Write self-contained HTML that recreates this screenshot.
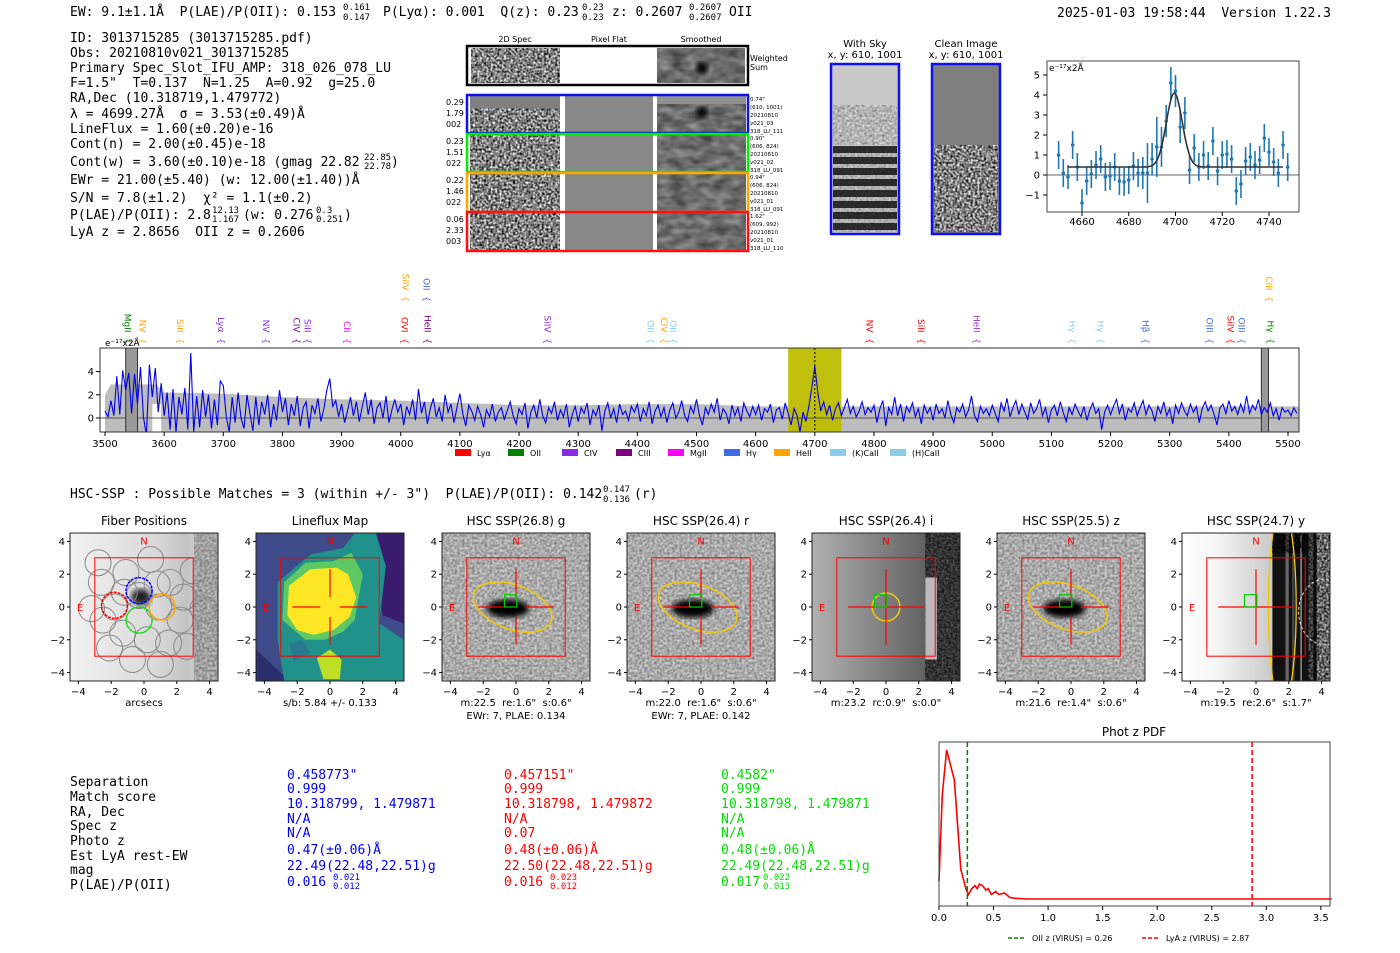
<!DOCTYPE html>
<html><head><meta charset="utf-8"><style>
html,body{margin:0;padding:0;background:#fff;width:1400px;height:953px;overflow:hidden}
svg{display:block}
svg text{white-space:pre}
.m{font-family:"DejaVu Sans Mono","Liberation Mono",monospace;font-size:13px}
.s{font-family:"DejaVu Sans","Liberation Sans",sans-serif}
</style></head><body>
<svg id="root" width="1400" height="953" viewBox="0 0 1400 953" xmlns="http://www.w3.org/2000/svg">
<defs>
<filter id="salt" x="0" y="0" width="1" height="1"><feTurbulence type="fractalNoise" baseFrequency="0.45" numOctaves="1" seed="3"/><feColorMatrix type="matrix" values="0 0 0 0 0  0 0 0 0 0  0 0 0 0 0  1 0 0 0 0"/><feComponentTransfer><feFuncA type="discrete" tableValues="1 1 0.75 0.5 0.25 0 0"/></feComponentTransfer></filter>
<filter id="smooth" x="0" y="0" width="1" height="1"><feTurbulence type="fractalNoise" baseFrequency="0.07 0.12" numOctaves="2" seed="7"/><feColorMatrix type="matrix" values="0 0 0 0 0  0 0 0 0 0  0 0 0 0 0  0.8 0 0 0 -0.1"/></filter>
<filter id="hsc" x="0" y="0" width="1" height="1"><feTurbulence type="fractalNoise" baseFrequency="0.4" numOctaves="1" seed="11"/><feColorMatrix type="matrix" values="0 0 0 0 0  0 0 0 0 0  0 0 0 0 0  0.7 0 0 0 -0.15"/></filter>
<filter id="blur3"><feGaussianBlur stdDeviation="3"/></filter>
<filter id="blur6"><feGaussianBlur stdDeviation="6"/></filter>
<linearGradient id="gi" x1="0" x2="1"><stop offset="0" stop-color="#b0b0b0"/><stop offset="1" stop-color="#4a4a4a"/></linearGradient>
<linearGradient id="gy" x1="0" x2="1"><stop offset="0" stop-color="#fff"/><stop offset="0.25" stop-color="#f4f4f4"/><stop offset="1" stop-color="#9a9a9a"/></linearGradient>
<linearGradient id="gf" x1="0" x2="1"><stop offset="0" stop-color="#f2f2f2"/><stop offset="0.6" stop-color="#d8d8d8"/><stop offset="1" stop-color="#aaa"/></linearGradient>
<clipPath id="specclip"><rect x="100" y="348" width="1199" height="84"/></clipPath>
<clipPath id="zclip"><rect x="1047" y="61" width="252" height="151"/></clipPath>
</defs>

<g class="m">
<text x="70" y="16">EW: 9.1±1.1Å  P(LAE)/P(OII): 0.153</text>
<text x="343" y="10" style="font-size:9px">0.161</text><text x="343" y="20" style="font-size:9px">0.147</text>
<text x="383" y="16">P(Lyα): 0.001  Q(z): 0.23</text>
<text x="582" y="10" style="font-size:9px">0.23</text><text x="582" y="20" style="font-size:9px">0.23</text>
<text x="612" y="16">z: 0.2607</text>
<text x="689" y="10" style="font-size:9px">0.2607</text><text x="689" y="20" style="font-size:9px">0.2607</text>
<text x="729" y="16">OII</text>
<text x="1057" y="17">2025-01-03 19:58:44  Version 1.22.3</text>
</g>
<g class="m">
<text x="70" y="42">ID: 3013715285 (3013715285.pdf)</text>
<text x="70" y="57">Obs: 20210810v021_3013715285</text>
<text x="70" y="72">Primary Spec_Slot_IFU_AMP: 318_026_078_LU</text>
<text x="70" y="87">F=1.5"  T=0.137  N=1.25  A=0.92  g=25.0</text>
<text x="70" y="102">RA,Dec (10.318719,1.479772)</text>
<text x="70" y="118">λ = 4699.27Å  σ = 3.53(±0.49)Å</text>
<text x="70" y="133">LineFlux = 1.60(±0.20)e-16</text>
<text x="70" y="148">Cont(n) = 2.00(±0.45)e-18</text>
<text x="70" y="166">Cont(w) = 3.60(±0.10)e-18 (gmag 22.82</text>
<text x="364" y="160" style="font-size:9px">22.85</text><text x="364" y="169" style="font-size:9px">22.78</text><text x="391" y="166">)</text>
<text x="70" y="184">EWr = 21.00(±5.40) (w: 12.00(±1.40))Å</text>
<text x="70" y="202">S/N = 7.8(±1.2)  χ² = 1.1(±0.2)</text>
<text x="70" y="219">P(LAE)/P(OII): 2.8</text>
<text x="212" y="213" style="font-size:9px">12.13</text><text x="212" y="222" style="font-size:9px">1.167</text>
<text x="243" y="219">(w: 0.276</text><text x="316" y="213" style="font-size:9px">0.3</text><text x="316" y="222" style="font-size:9px">0.251</text><text x="344" y="219">)</text>
<text x="70" y="236">LyA z = 2.8656  OII z = 0.2606</text>
</g>

<g class="s">
<text x="515" y="42" font-size="8" text-anchor="middle">2D Spec</text>
<text x="609" y="42" font-size="8" text-anchor="middle">Pixel Flat</text>
<text x="701" y="42" font-size="8" text-anchor="middle">Smoothed</text>
<g>
<rect x="467" y="46" width="281" height="39" fill="#fff"/>
<rect x="471" y="48" width="89" height="35" fill="#fff" filter="url(#salt)"/>
<rect x="657" y="48" width="88" height="35" fill="#9a9a9a"/>
<rect x="657" y="48" width="88" height="35" fill="#fff" filter="url(#smooth)"/>
<ellipse cx="702" cy="68" rx="6" ry="6" fill="#000" filter="url(#blur3)"/>
<rect x="467" y="46" width="281" height="39" fill="none" stroke="#000" stroke-width="2.5"/>
<text x="750" y="61" font-size="8">Weighted</text><text x="750" y="70" font-size="8">Sum</text>
</g>
<g id="rows"></g>
</g>

<g class="s">
<text x="865" y="47" font-size="10" text-anchor="middle">With Sky</text>
<text x="865" y="58" font-size="10" text-anchor="middle">x, y: 610, 1001</text>
<rect x="831" y="64" width="68" height="170" fill="#c8c8c8"/>
<rect x="833" y="105" width="64" height="40" fill="#e0e0e0"/>
<rect x="833" y="105" width="64" height="40" fill="#fff" filter="url(#hsc)"/>
<g id="stripes"></g>
<rect x="831" y="64" width="68" height="170" fill="none" stroke="#1010ee" stroke-width="2.5"/>
<text x="966" y="47" font-size="10" text-anchor="middle">Clean Image</text>
<text x="966" y="58" font-size="10" text-anchor="middle">x, y: 610, 1001</text>
<rect x="932" y="64" width="68" height="170" fill="#7f7f7f"/>
<rect x="934" y="145" width="64" height="87" fill="#fff"/>
<rect x="934" y="145" width="64" height="87" fill="#fff" filter="url(#salt)"/>
<rect x="932" y="64" width="68" height="170" fill="none" stroke="#1010ee" stroke-width="2.5"/>
</g>

<g id="zoomplot" class="s" font-size="10"></g>
<g id="specplot" class="s" font-size="10"></g>

<g class="m">
<text x="70" y="498">HSC-SSP : Possible Matches = 3 (within +/- 3")  P(LAE)/P(OII): 0.142</text>
<text x="603" y="492" style="font-size:9px">0.147</text><text x="603" y="502" style="font-size:9px">0.136</text>
<text x="634" y="498">(r)</text>
</g>

<g id="panels" class="s"></g>

<g class="m">
<g>
<text x="70" y="786">Separation</text><text x="70" y="801">Match score</text><text x="70" y="816">RA, Dec</text><text x="70" y="830">Spec z</text><text x="70" y="845">Photo z</text><text x="70" y="860">Est LyA rest-EW</text><text x="70" y="874">mag</text><text x="70" y="889">P(LAE)/P(OII)</text>
</g>
<g fill="#0000ff">
<text x="287" y="779">0.458773"</text><text x="287" y="793">0.999</text><text x="287" y="808">10.318799, 1.479871</text><text x="287" y="823">N/A</text><text x="287" y="837">N/A</text><text x="287" y="854">0.47(±0.06)Å</text><text x="287" y="870">22.49(22.48,22.51)g</text><text x="287" y="886">0.016</text><text x="333" y="880" style="font-size:9px">0.021</text><text x="333" y="889" style="font-size:9px">0.012</text>
</g>
<g fill="#ff0000">
<text x="504" y="779">0.457151"</text><text x="504" y="793">0.999</text><text x="504" y="808">10.318798, 1.479872</text><text x="504" y="823">N/A</text><text x="504" y="837">0.07</text><text x="504" y="854">0.48(±0.06)Å</text><text x="504" y="870">22.50(22.48,22.51)g</text><text x="504" y="886">0.016</text><text x="550" y="880" style="font-size:9px">0.023</text><text x="550" y="889" style="font-size:9px">0.012</text>
</g>
<g fill="#00dd00">
<text x="721" y="779">0.4582"</text><text x="721" y="793">0.999</text><text x="721" y="808">10.318798, 1.479871</text><text x="721" y="823">N/A</text><text x="721" y="837">N/A</text><text x="721" y="854">0.48(±0.06)Å</text><text x="721" y="870">22.49(22.48,22.51)g</text><text x="721" y="886">0.017</text><text x="763" y="880" style="font-size:9px">0.022</text><text x="763" y="889" style="font-size:9px">0.013</text>
</g>
</g>

<g id="pdfplot" class="s" font-size="10"></g>
</svg>

<script>
const specStart = 3500, specStep = 5;
const specFlux = [
0.6,0.1,1.5,0.2,3.6,0.3,4.1,2.4,3.9,0.4,3.8,1.2,4.4,0.1,-1.5,4.6,1.8,4.3,0.5,3.0,
0.2,2.2,-1.0,2.5,-1.2,1.8,0.3,2.6,-1.0,5.6,-1.2,1.9,-0.8,2.4,0.1,2.0,-0.9,1.6,-0.6,3.2,
2.8,0.1,-1.2,1.8,-0.4,2.2,0.0,-0.9,2.0,0.4,-1.1,1.8,-0.6,1.4,0.3,2.0,-0.8,1.2,-0.2,2.4,
0.5,1.7,-0.6,1.2,0.2,1.9,-0.7,0.9,1.4,-0.9,1.1,0.4,1.7,-0.3,0.8,2.4,3.4,1.0,1.5,0.1,
1.2,-0.4,0.6,1.8,0.2,1.4,-0.3,1.0,2.2,0.3,1.6,-0.5,0.9,1.3,0.0,1.9,-0.4,0.7,1.6,0.5,
1.2,-0.6,1.0,0.3,1.6,-0.2,2.5,0.4,1.4,-0.5,0.8,1.7,0.1,0.9,-0.3,2.0,0.5,1.2,-0.4,0.9,
2.1,0.3,-0.7,1.1,0.6,-0.2,1.0,0.3,-0.8,0.7,0.1,1.2,-0.3,0.5,0.9,-0.1,0.6,1.4,0.2,-0.5,
0.8,0.3,1.3,-0.9,0.5,1.1,0.0,1.6,0.2,-0.4,0.9,0.4,1.4,-0.2,0.7,0.1,1.2,-0.8,0.3,1.0,
-0.3,0.9,0.4,1.3,-0.6,0.7,0.2,1.1,-1.1,0.6,1.3,0.0,0.8,-0.4,1.2,0.3,0.6,-0.2,1.0,0.5,
1.2,-0.3,0.8,0.2,1.4,-0.5,0.6,1.1,0.1,0.9,-0.4,0.7,1.3,0.0,0.5,1.5,0.2,-0.3,1.0,0.4,
1.6,0.2,-0.6,0.9,0.3,1.2,0.5,1.7,-0.2,0.8,0.4,-0.5,1.1,0.2,0.9,-0.3,1.3,0.6,0.1,1.0,
0.3,1.1,-0.2,0.8,0.5,1.2,-0.4,0.7,0.9,-0.1,1.3,0.4,-0.6,0.8,0.2,-1.2,0.5,-0.3,1.0,2.6,
4.5,2.2,0.6,1.4,0.3,1.1,-0.2,0.8,1.3,0.2,0.9,1.6,0.4,1.0,0.1,0.6,1.4,0.3,0.9,0.5,
1.1,-0.4,0.8,1.5,-0.7,0.9,0.3,1.8,0.2,1.2,-0.3,1.0,0.5,1.3,0.1,0.8,-0.5,1.1,0.4,0.9,
-0.2,1.2,0.4,0.8,0.0,1.5,0.3,-0.4,0.9,0.5,1.2,0.1,0.7,1.9,0.2,-0.3,1.0,0.4,0.8,0.2,
1.1,0.4,-0.3,1.3,0.6,1.7,0.1,0.9,1.5,0.3,1.2,0.5,-0.1,1.3,0.4,0.8,1.6,0.2,0.9,-0.4,
0.7,1.1,0.2,1.4,0.5,-0.3,0.9,0.3,1.2,0.6,0.1,1.0,-0.2,0.7,1.3,0.4,0.8,-1.0,0.5,1.1,
0.3,1.0,1.6,0.4,1.2,-0.2,0.8,0.5,1.3,0.2,0.9,1.5,0.3,1.1,0.6,-0.3,1.0,0.4,1.4,0.2,
0.8,-0.5,1.1,0.4,1.3,0.6,0.2,1.2,0.5,1.0,-0.4,0.8,1.4,0.6,1.1,0.3,-0.6,0.9,1.2,0.4,
1.5,0.6,1.0,0.3,1.2,0.5,1.9,0.4,1.1,0.7,1.6,0.3,0.9,0.5,1.3,0.2,0.8,-0.2,0.9,0.5,
0.7,0.2,0.9,0.4];
const errWave = [3500,3510,3585,3600,3700,3800,3900,4000,4100,4200,4300,4400,4500,4600,5500,5520];
const errUpper = [2.0,2.9,2.9,2.2,2.1,1.8,1.6,1.5,1.3,1.1,1.1,1.2,1.2,1.0,1.0,1.0];
const specXTicks = [3500,3600,3700,3800,3900,4000,4100,4200,4300,4400,4500,4600,4700,4800,4900,5000,5100,5200,5300,5400,5500];
const specYTicks = [0,2,4];
const lineNames = ["MgII","NV","SiII","Lyα","NV","CIV","SiII","CII","OVI","SiIV","OII","HeII","SiIV","OII","CIV","OII","NV","SiII","HeII","Hγ","Hγ","Hβ","OIII","SiIV","OIII","CIII","Hγ"];
const lineWaves = [3528,3553,3617,3686,3762,3814,3832,3899,3996,3998,4033,4035,4238,4412,4435,4450,4782,4869,4963,5125,5173,5249,5357,5393,5411,5458,5460];
const lineColors = ["#008000","#ffa500","#ffa500","#8a2be2","#8a2be2","#800080","#8a2be2","#ff00ff","#ff0000","#ffa500","#4169e1","#800080","#8a2be2","#87cefa","#ffa500","#87cefa","#ff0000","#ff0000","#9932cc","#87cefa","#87cefa","#4169e1","#4169e1","#ff0000","#4169e1","#ffa500","#008000"];
const lineUpper = [0,0,0,0,0,0,0,0,0,1,1,0,0,0,0,0,0,0,0,0,0,0,0,0,0,1,0];
const legendNames = ["Lyα","OII","CIV","CIII","MgII","Hγ","HeII","(K)CaII","(H)CaII"];
const legendColors = ["#ff0000","#008000","#8a2be2","#800080","#ff00ff","#4169e1","#ffa500","#87ceeb","#87ceeb"];

const fitWave = [4650,4652,4654,4656,4658,4660,4662,4664,4666,4668,4670,4672,4674,4676,4678,4680,4682,4684,4686,4688,4690,4692,4694,4696,4698,4700,4702,4704,4706,4708,4710,4712,4714,4716,4718,4720,4722,4724,4726,4728,4730,4732,4734,4736,4738,4740,4742,4744,4746,4748];
const fitFlux = [1.0,0.1,-0.1,1.5,0.4,-1.4,-0.3,0.05,0.5,0.8,-0.1,-0.05,0.4,-0.3,-0.35,-0.25,0.45,0.1,0.1,0.1,0.8,1.4,1.4,2.7,4.6,4.2,2.4,3.1,0.25,1.35,0.4,1.0,0.45,1.7,0.2,1.0,1.05,0.8,-0.8,-0.45,0.7,0.9,0.5,0.75,1.85,1.15,0.65,0.1,1.5,0.4];
const fitErr = [0.7,0.7,0.6,0.7,0.7,0.7,0.7,0.7,0.7,0.7,0.7,0.7,0.7,0.7,0.7,0.7,0.7,0.7,0.8,1.5,0.8,1.5,1.0,0.8,0.8,0.8,0.8,0.8,0.7,0.7,0.7,0.7,0.7,0.7,0.7,0.7,0.7,0.7,0.7,0.7,0.7,0.7,0.7,0.7,0.7,0.7,0.7,0.7,0.7,0.7];
const fitModel = {center:4699.5, amp:3.7, sigma:3.4, base:0.4};
const fitXTicks = [4660,4680,4700,4720,4740];
const fitYTicks = [-1,0,1,2,3,4,5];

const pdfZ = [0,0.03,0.07,0.14,0.2,0.25,0.27,0.3,0.33,0.35,0.37,0.4,0.43,0.45,0.48,0.52,0.55,0.6,0.65,0.7,0.8,1.0,3.6];
const pdfP = [0.12,0.7,1.0,0.8,0.2,0.06,0.03,0.07,0.09,0.07,0.1,0.09,0.06,0.07,0.03,0.05,0.03,0.04,0.01,0.005,0,0,0];
const pdfXTicks = [0,0.5,1.0,1.5,2.0,2.5,3.0,3.5];
const oiiZ = 0.26, lyaZ = 2.87;

const panelTitles = ["Fiber Positions","Lineflux Map","HSC SSP(26.8) g","HSC SSP(26.4) r","HSC SSP(26.4) i","HSC SSP(25.5) z","HSC SSP(24.7) y"];
const panelCaption1 = ["arcsecs","s/b: 5.84 +/- 0.133","m:22.5  re:1.6\"  s:0.6\"","m:22.0  re:1.6\"  s:0.6\"","m:23.2  rc:0.9\"  s:0.0\"","m:21.6  re:1.4\"  s:0.6\"","m:19.5  re:2.6\"  s:1.7\""];
const panelCaption2 = ["","","EWr: 7, PLAE: 0.134","EWr: 7, PLAE: 0.142","","",""];
const panelTicks = [-4,-2,0,2,4];

const NS="http://www.w3.org/2000/svg";
function mk(parent,tag,attrs,text){const e=document.createElementNS(NS,tag);for(const k in attrs)e.setAttribute(k,attrs[k]);if(text!==undefined)e.textContent=text;parent.appendChild(e);return e;}

(function(){
 const g=document.getElementById('rows');
 const rowsY=[[95,38],[134,38],[173,39],[212,39]];
 const cols=["#1010ee","#00ee00","#ffa500","#ff1010"];
 const left=[["0.29","1.79","002"],["0.23","1.51","022"],["0.22","1.46","022"],["0.06","2.33","003"]];
 const right=[["0.74\"","(610, 1001)","20210810","v021_03","318_LU_111"],["0.90\"","(606, 824)","20210810","v021_02","318_LU_091"],["0.94\"","(606, 824)","20210810","v021_01","318_LU_091"],["1.62\"","(609, 992)","20210810","v021_01","318_LU_110"]];
 rowsY.forEach((r,i)=>{
  const y=r[0],h=r[1];
  const rg=mk(g,'g',{});
  
  
  mk(rg,'rect',{x:467,y:y,width:281,height:h,fill:'#fff'});
  mk(rg,'rect',{x:470,y:y+1,width:90,height:h-2,fill:'#fff',filter:'url(#salt)'});
  if(i===0) mk(rg,'rect',{x:470,y:y+1,width:90,height:12,fill:'#808080'});
  mk(rg,'rect',{x:565,y:y+1,width:88,height:h-2,fill:'#888'});
  mk(rg,'rect',{x:657,y:y+1,width:89,height:h-2,fill:'#9a9a9a'});
  mk(rg,'rect',{x:657,y:y+1,width:89,height:h-2,fill:'#fff',filter:'url(#smooth)'});
  if(i===0){mk(rg,'rect',{x:657,y:y+1,width:89,height:8,fill:'#909090'});mk(rg,'circle',{cx:702,cy:y+18,r:6,fill:'#000',filter:'url(#blur3)'});}
  mk(rg,'rect',{x:467,y:y,width:281,height:h,fill:'none',stroke:cols[i],'stroke-width':2.5});
  left[i].forEach((t,j)=>mk(rg,'text',{x:446,y:y+10+j*11,'font-size':8},t));
  right[i].forEach((t,j)=>mk(rg,'text',{x:750,y:y+6+j*8,'font-size':5.5},t));
 });
 const st=document.getElementById('stripes');
 for(let k=0;k<8;k++){
  mk(st,'rect',{x:833,y:146+k*11,width:64,height:7,fill:'#333'});
  mk(st,'rect',{x:833,y:153+k*11,width:64,height:4,fill:'#d0d0d0'});
 }
 mk(st,'rect',{x:833,y:146,width:64,height:86,fill:'#fff',filter:'url(#salt)',opacity:0.3});
})();

(function(){
 const g=document.getElementById('zoomplot');
 const X=w=>1082+(w-4660)*2.3375, Y=v=>175-v*20;
 mk(g,'rect',{x:1047,y:61,width:252,height:151,fill:'#fff'});
 const c=mk(g,'g',{'clip-path':'url(#zclip)'});
 mk(c,'line',{x1:1047,x2:1299,y1:Y(0),y2:Y(0),stroke:'#666','stroke-width':1});
 fitWave.forEach((w,i)=>{
  const e=mk(c,'line',{x1:X(w),x2:X(w),y1:Y(fitFlux[i]-fitErr[i]),y2:Y(fitFlux[i]+fitErr[i]),stroke:'#1f77b4','stroke-width':1.6});
  
  
  const p=mk(c,'circle',{cx:X(w),cy:Y(fitFlux[i]),r:1.8,fill:'#1f77b4'});
  
  
 });
 let d='';
 for(let w=4654;w<=4746;w+=0.5){const v=fitModel.base+fitModel.amp*Math.exp(-0.5*Math.pow((w-fitModel.center)/fitModel.sigma,2));d+=(d?'L':'M')+X(w).toFixed(1)+','+Y(v).toFixed(1);}
 const fl=mk(c,'path',{d:d,fill:'none',stroke:'#333','stroke-width':1.6});
 
 
 mk(g,'rect',{x:1047,y:61,width:252,height:151,fill:'none',stroke:'#444','stroke-width':1});
 fitXTicks.forEach(t=>{mk(g,'line',{x1:X(t),x2:X(t),y1:212,y2:216,stroke:'#000'});mk(g,'text',{x:X(t),y:225,'text-anchor':'middle'},t);});
 fitYTicks.forEach(t=>{mk(g,'line',{x1:1043,x2:1047,y1:Y(t),y2:Y(t),stroke:'#000'});mk(g,'text',{x:1040,y:Y(t)+3.5,'text-anchor':'end'},t===-1?'−1':t);});
 mk(g,'text',{x:1049,y:71,'font-size':9},'e⁻¹⁷x2Å');
})();

(function(){
 const g=document.getElementById('specplot');
 const X=w=>105+(w-3500)*0.5915, Y=v=>418-v*11.6;
 mk(g,'rect',{x:100,y:348,width:1199,height:84,fill:'#fff'});
 const c=mk(g,'g',{'clip-path':'url(#specclip)'});
 let d='M'+X(errWave[0])+','+Y(-1.3);
 errWave.forEach((w,i)=>{d+='L'+X(w).toFixed(1)+','+Y(errUpper[i]).toFixed(1);});
 d+='L'+X(errWave[errWave.length-1])+','+Y(-1.3)+'Z';
 const band=mk(c,'path',{d:d,fill:'#bdbdbd'});
 
 
 mk(c,'rect',{x:X(3580),y:Y(1.2),width:X(3595)-X(3580),height:40,fill:'#fff'});
 mk(c,'rect',{x:X(4655),y:348,width:X(4745)-X(4655),height:84,fill:'#bdbd00',opacity:0.95,});
 mk(c,'line',{x1:100,x2:1299,y1:Y(0),y2:Y(0),stroke:'#555','stroke-width':1});
 mk(c,'rect',{x:X(3535),y:348,width:X(3555)-X(3535),height:84,fill:'#999',stroke:'#333','stroke-width':1});
 mk(c,'rect',{x:X(5455),y:348,width:X(5467)-X(5455),height:84,fill:'#999',stroke:'#333','stroke-width':1});
 mk(c,'line',{x1:X(4700),x2:X(4700),y1:348,y2:432,stroke:'#000','stroke-dasharray':'2,2','stroke-width':1});
 let p='';
 specFlux.forEach((v,i)=>{const w=specStart+i*specStep;p+=(p?'L':'M')+X(w).toFixed(1)+','+Y(v).toFixed(1);});
 const sl=mk(c,'path',{d:p,fill:'none',stroke:'#0000ee','stroke-width':1.1});
 
 
 mk(g,'rect',{x:100,y:348,width:1199,height:84,fill:'none',stroke:'#333','stroke-width':1});
 specXTicks.forEach(t=>{mk(g,'line',{x1:X(t),x2:X(t),y1:432,y2:436,stroke:'#000'});mk(g,'text',{x:X(t),y:447,'text-anchor':'middle'},t);});
 specYTicks.forEach(t=>{mk(g,'line',{x1:96,x2:100,y1:Y(t),y2:Y(t),stroke:'#000'});mk(g,'text',{x:94,y:Y(t)+3.5,'text-anchor':'end'},t);});
 mk(g,'text',{x:105,y:346,'font-size':9},'e⁻¹⁷x2Å');
 lineNames.forEach((n,i)=>{
  const x=X(lineWaves[i]), yb=lineUpper[i]?302:344;
  const t=mk(g,'text',{transform:`translate(${x+3},${yb}) rotate(90)`,fill:lineColors[i],'font-size':9,'text-anchor':'end'},n+'  {');
  
  
 });
 const lx=[455,508,562,616,668,724,774,830,890];
 legendNames.forEach((n,i)=>{
  const lg=mk(g,'g',{});
  
  
  mk(lg,'rect',{x:lx[i],y:449,width:16,height:7,fill:legendColors[i]});
  mk(lg,'text',{x:lx[i]+22,y:456,'font-size':8},n);
 });
})();

(function(){
 const g=document.getElementById('panels');
 const centers=[144,330,516,701,886,1071,1256], cy=607, s=16.4, half=74;
 centers.forEach((cx,i)=>{
  const pg=mk(g,'g',{});
  
  
  const x0=cx-half,y0=cy-half,W=2*half;
  const cid='pc'+i;
  const cp=mk(pg,'clipPath',{id:cid});mk(cp,'rect',{x:x0,y:y0,width:W,height:W});
  const im=mk(pg,'g',{'clip-path':`url(#${cid})`});
  if(i===0){
   mk(im,'rect',{x:x0,y:y0,width:W,height:W,fill:'url(#gf)'});
   mk(im,'rect',{x:x0+W*0.8,y:y0,width:W*0.2,height:W,fill:'#c8c8c8'});
   mk(im,'rect',{x:x0+W*0.84,y:y0,width:W*0.16,height:W,fill:'#fff',filter:'url(#hsc)'});
   mk(im,'ellipse',{cx:cx-3,cy:cy-10,rx:10,ry:8,fill:'#222',filter:'url(#blur3)'});
   const fib=[[-1.8,0],[-0.3,0.7],[0.9,0],[-0.3,-0.8],[-2.5,-0.8],[-3.2,-0.1],[-2.6,1.5],[-1.1,2.1],[0.4,2.9],[1.6,1.5],[2.4,0.6],[3.0,2.2],[2.2,-0.8],[1.5,-2.2],[0.2,-2.0],[-1.3,-1.6],[-2.1,-2.5],[-0.7,-3.2],[1.0,-3.5],[2.6,-2.4],[3.6,-0.1],[0.8,1.4],[-2.8,2.7],[-1.2,0.9]];
   fib.forEach(f=>mk(im,'circle',{cx:cx+f[0]*s,cy:cy-f[1]*s,r:13,fill:'none',stroke:'#888','stroke-width':1}));
   [[-0.3,1.0,'#0000ff'],[-1.8,0.1,'#ff0000'],[-0.3,-0.8,'#00ee00'],[1.1,0,'#ffa500']].forEach(f=>mk(im,'circle',{cx:cx+f[0]*s,cy:cy-f[1]*s,r:13,fill:'none',stroke:f[2],'stroke-width':1.5,'stroke-dasharray':f[2]==='#ffa500'?'':'3,1'}));
  } else if(i===1){
   mk(im,'rect',{x:x0,y:y0,width:W,height:W,fill:'#3e4a89'});
   const P=(a)=>a.map(q=>(cx+q[0]*s)+','+(cy-q[1]*s)).join(' ');
   mk(im,'polygon',{points:P([[2.6,4.5],[4.5,4.5],[4.5,-1],[3.2,-0.5]]),fill:'#3a1c6e'});
   mk(im,'polygon',{points:P([[-4.5,-2.6],[-4.5,-4.5],[-2.5,-4.5]]),fill:'#2c2f6e'});
   mk(im,'polygon',{points:P([[-2.8,-4.5],[-3.2,-2],[-3.2,1.5],[-1.2,3.2],[0.8,3.6],[1.5,4.5],[2.8,4.5],[3.4,2.5],[3.0,-1],[4.5,-2],[4.5,-4.5]]),fill:'#21918c'});
   mk(im,'polygon',{points:P([[-2.9,-0.8],[-2.8,1.5],[-1.5,2.7],[0.2,2.8],[1.3,3.3],[2.0,2.0],[1.5,-0.8],[0.8,-1.5],[-0.3,-2.0],[-1.5,-2.0]]),fill:'#5ec962'});
   mk(im,'polygon',{points:P([[-2.6,-0.5],[-2.5,1.3],[-1.2,2.3],[0.4,2.4],[1.1,2.0],[1.6,0.6],[1.2,-0.6],[0.2,-1.4],[-1.0,-1.7],[-2.0,-1.4]]),fill:'#fde725'});
   mk(im,'polygon',{points:P([[-0.8,-3.1],[-0.4,-4.4],[0.6,-4.4],[0.7,-3.2],[0,-2.6]]),fill:'#bddf26'});
   mk(im,'polygon',{points:P([[-2.5,-2.2],[-1.7,-2.0],[-1.2,-2.8],[-2.2,-3.3]]),fill:'#2a788e'});
  } else if(i===4){
   mk(im,'rect',{x:x0,y:y0,width:W,height:W,fill:'url(#gi)'});
   mk(im,'rect',{x:cx+2.4*s,y:y0,width:W,height:W,fill:'#555'});
   mk(im,'rect',{x:cx+2.4*s,y:y0,width:W,height:W,fill:'#fff',filter:'url(#salt)',opacity:0.8});
   mk(im,'rect',{x:cx+2.4*s,y:cy-1.8*s,width:0.7*s,height:5*s,fill:'#bbb'});
   mk(im,'ellipse',{cx:cx,cy:cy,rx:0.85*s,ry:0.85*s,fill:'none',stroke:'#f5c800','stroke-width':1.5});
  } else if(i===6){
   mk(im,'rect',{x:x0,y:y0,width:W,height:W,fill:'url(#gy)'});
   mk(im,'rect',{x:cx+1.0*s,y:y0,width:W,height:W,fill:'#111'});
   [[1.8,0.2,'#666'],[2.2,0.15,'#444'],[2.7,0.1,'#888'],[3.2,0.3,'#777'],[3.7,0.8,'#ccc']].forEach(b=>mk(im,'rect',{x:cx+b[0]*s,y:y0,width:b[1]*s,height:W,fill:b[2]}));
   mk(im,'rect',{x:cx+3.2*s,y:y0,width:1.4*s,height:W,fill:'#fff',filter:'url(#salt)'});
   mk(im,'rect',{x:cx+1.0*s,y:y0,width:2.2*s,height:1.2*s,fill:'#fff',filter:'url(#salt)'});
   mk(im,'ellipse',{cx:cx+1.6*s,cy:cy,rx:0.85*s,ry:6*s,fill:'none',stroke:'#f5c800','stroke-width':1.3});
   mk(im,'ellipse',{cx:cx+4.2*s,cy:cy+0.3*s,rx:1.6*s,ry:2.0*s,fill:'none',stroke:'#ddd','stroke-width':1,'stroke-dasharray':'3,2'});
  } else {
   mk(im,'rect',{x:x0,y:y0,width:W,height:W,fill:'#d4d4d4'});
   mk(im,'rect',{x:x0,y:y0,width:W,height:W,fill:'#fff',filter:'url(#hsc)'});
   const dx=i===5?-0.4:-0.5;
   mk(im,'ellipse',{cx:cx+dx*s,cy:cy+0.1*s,rx:1.3*s,ry:0.55*s,fill:'#000',filter:'url(#blur3)'});
   mk(im,'ellipse',{cx:cx-0.2*s,cy:cy,rx:2.5*s,ry:1.35*s,fill:'none',stroke:'#f5c800','stroke-width':1.5,transform:`rotate(20 ${cx-0.2*s} ${cy})`});
  }
  mk(pg,'rect',{x:cx-3*s,y:cy-3*s,width:6*s,height:6*s,fill:'none',stroke:'#ff0000','stroke-width':1});
  if(i>0){
   const gap=i===1||i===2||i===3||i===5?0.6:0;
   [[-2.3,-gap],[gap,2.3]].forEach(r=>{mk(pg,'line',{x1:cx+r[0]*s,x2:cx+r[1]*s,y1:cy,y2:cy,stroke:'#ff0000','stroke-width':1.2});mk(pg,'line',{y1:cy-r[0]*s,y2:cy-r[1]*s,x1:cx,x2:cx,stroke:'#ff0000','stroke-width':1.2});});
  }
  if(i>=2) mk(pg,'rect',{x:cx-0.7*s,y:cy-0.75*s,width:0.75*s,height:0.75*s,fill:'none',stroke:'#00cc00','stroke-width':1.2});
  mk(pg,'text',{x:cx,y:cy-3.8*s,'font-size':10,fill:'#ff0000','text-anchor':'middle'},'N');
  mk(pg,'text',{x:cx-3.9*s,y:cy+4,'font-size':10,fill:'#ff0000','text-anchor':'middle'},'E');
  mk(pg,'rect',{x:x0,y:y0,width:W,height:W,fill:'none',stroke:'#222','stroke-width':1});
  panelTicks.forEach(t=>{
   const lab=t<0?'−'+(-t):''+t;
   mk(pg,'line',{x1:cx+t*s,x2:cx+t*s,y1:y0+W,y2:y0+W+3,stroke:'#000'});
   mk(pg,'text',{x:cx+t*s,y:y0+W+14,'font-size':10,'text-anchor':'middle'},lab);
   mk(pg,'line',{x1:x0-3,x2:x0,y1:cy-t*s,y2:cy-t*s,stroke:'#000'});
   mk(pg,'text',{x:x0-5,y:cy-t*s+3.5,'font-size':10,'text-anchor':'end'},lab);
  });
  mk(pg,'text',{x:cx,y:525,'font-size':12,'text-anchor':'middle'},panelTitles[i]);
  mk(pg,'text',{x:cx,y:706,'font-size':10,'text-anchor':'middle'},panelCaption1[i]);
  if(panelCaption2[i]) mk(pg,'text',{x:cx,y:719,'font-size':10,'text-anchor':'middle'},panelCaption2[i]);
 });
})();

(function(){
 const g=document.getElementById('pdfplot');
 const X=z=>939+z*109.1, Y=v=>899-v*149;
 mk(g,'rect',{x:939,y:742,width:391,height:164,fill:'#fff'});
 let d='';
 pdfZ.forEach((z,i)=>{d+=(d?'L':'M')+X(z).toFixed(1)+','+Y(pdfP[i]).toFixed(1);});
 const pl=mk(g,'path',{d:d,fill:'none',stroke:'#ff0000','stroke-width':1.6});
 
 
 const l1=mk(g,'line',{x1:X(oiiZ),x2:X(oiiZ),y1:742,y2:906,stroke:'#008000','stroke-width':1.5,'stroke-dasharray':'5,3'});
 
 
 const l2=mk(g,'line',{x1:X(lyaZ),x2:X(lyaZ),y1:742,y2:906,stroke:'#ff0000','stroke-width':1.5,'stroke-dasharray':'5,3'});
 
 
 mk(g,'rect',{x:939,y:742,width:391,height:164,fill:'none',stroke:'#444','stroke-width':1});
 pdfXTicks.forEach(t=>{mk(g,'line',{x1:X(t),x2:X(t),y1:906,y2:910,stroke:'#000'});mk(g,'text',{x:X(t),y:921,'text-anchor':'middle'},t.toFixed(1));});
 mk(g,'text',{x:1134,y:736,'font-size':12,'text-anchor':'middle'},'Phot z PDF');
 const lg1=mk(g,'g',{});
 
 
 mk(lg1,'line',{x1:1008,x2:1025,y1:938,y2:938,stroke:'#008000','stroke-width':1.5,'stroke-dasharray':'4,2'});
 mk(lg1,'text',{x:1032,y:941,'font-size':8},'OII z (VIRUS) = 0.26');
 const lg2=mk(g,'g',{});
 
 
 mk(lg2,'line',{x1:1142,x2:1159,y1:938,y2:938,stroke:'#ff0000','stroke-width':1.5,'stroke-dasharray':'4,2'});
 mk(lg2,'text',{x:1166,y:941,'font-size':8},'LyA z (VIRUS) = 2.87');
})();
</script>
</body></html>
